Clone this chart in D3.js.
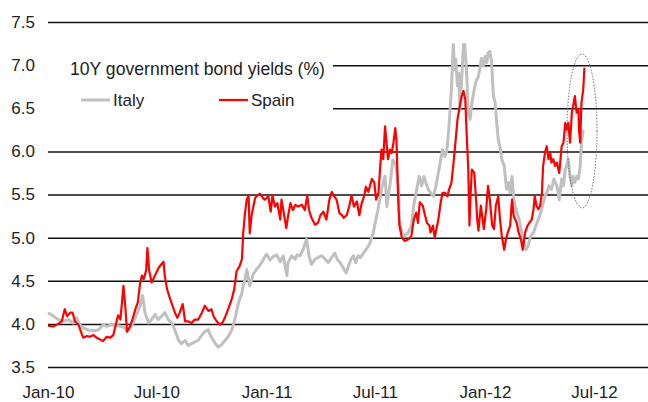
<!DOCTYPE html>
<meta charset="utf-8">
<style>
body { margin: 0; background: #fff; }
svg { display: block; font-family: "Liberation Sans", Arial, sans-serif; }
.axis text { fill: #222; font-size: 17px; }
</style>
<svg width="648" height="402"></svg>
<script src="https://d3js.org/d3.v7.min.js"></script>
<script>
// 10Y yields, [date, %]
var italy = [
  ["2010-01-01",4.13],["2010-01-10",4.09],["2010-01-18",4.05],["2010-01-27",4.03],["2010-02-04",4.05],
  ["2010-02-12",4.01],["2010-02-18",4.07],["2010-02-23",3.99],["2010-03-01",3.95],["2010-03-09",3.93],
  ["2010-03-18",3.92],["2010-03-26",3.93],["2010-04-03",3.99],["2010-04-09",3.97],["2010-04-17",3.99],
  ["2010-04-26",3.98],["2010-05-04",3.97],["2010-05-10",3.95],["2010-05-13",3.91],["2010-05-18",3.95],
  ["2010-05-23",4.01],["2010-05-29",4.11],["2010-06-04",4.21],["2010-06-08",4.33],["2010-06-12",4.13],
  ["2010-06-18",4.01],["2010-06-23",4.05],["2010-06-29",4.11],["2010-07-04",4.05],["2010-07-10",4.09],
  ["2010-07-15",4.13],["2010-07-21",4.05],["2010-07-27",4.01],["2010-08-01",3.93],["2010-08-07",3.81],
  ["2010-08-12",3.77],["2010-08-18",3.81],["2010-08-23",3.75],["2010-08-29",3.77],["2010-09-03",3.79],
  ["2010-09-09",3.81],["2010-09-15",3.87],["2010-09-20",3.91],["2010-09-26",3.93],["2010-09-29",3.87],
  ["2010-10-07",3.78],["2010-10-12",3.73],["2010-10-18",3.76],["2010-10-24",3.81],["2010-10-29",3.85],
  ["2010-11-04",3.93],["2010-11-09",4.05],["2010-11-15",4.24],["2010-11-21",4.36],["2010-11-23",4.44],
  ["2010-11-26",4.51],["2010-11-29",4.63],["2010-12-04",4.44],["2010-12-10",4.58],["2010-12-16",4.64],
  ["2010-12-21",4.68],["2010-12-27",4.75],["2011-01-01",4.81],["2011-01-07",4.74],["2011-01-12",4.78],
  ["2011-01-18",4.80],["2011-01-24",4.72],["2011-01-29",4.79],["2011-02-04",4.56],["2011-02-06",4.71],
  ["2011-02-12",4.79],["2011-02-18",4.75],["2011-02-21",4.80],["2011-02-26",4.79],["2011-03-03",4.86],
  ["2011-03-09",4.98],["2011-03-13",4.79],["2011-03-17",4.69],["2011-03-23",4.75],["2011-03-28",4.77],
  ["2011-04-03",4.79],["2011-04-09",4.75],["2011-04-14",4.71],["2011-04-20",4.77],["2011-04-25",4.82],
  ["2011-04-29",4.75],["2011-05-04",4.71],["2011-05-09",4.65],["2011-05-14",4.59],["2011-05-18",4.67],
  ["2011-05-22",4.75],["2011-05-26",4.79],["2011-05-30",4.71],["2011-06-03",4.79],["2011-06-07",4.77],
  ["2011-06-12",4.82],["2011-06-16",4.86],["2011-06-20",4.90],["2011-06-23",4.94],["2011-06-28",5.05],
  ["2011-07-06",5.32],["2011-07-13",5.59],["2011-07-18",5.71],["2011-07-21",5.36],["2011-07-26",5.60],
  ["2011-07-31",5.90],["2011-08-05",5.85],["2011-08-09",5.60],["2011-08-11",5.21],["2011-08-15",5.06],
  ["2011-08-20",5.02],["2011-08-26",5.06],["2011-08-31",5.14],["2011-09-04",5.38],["2011-09-09",5.56],
  ["2011-09-13",5.71],["2011-09-17",5.60],["2011-09-21",5.71],["2011-09-24",5.64],["2011-09-28",5.56],
  ["2011-10-02",5.52],["2011-10-07",5.48],["2011-10-11",5.60],["2011-10-15",5.75],["2011-10-19",5.91],
  ["2011-10-22",6.02],["2011-10-26",5.94],["2011-10-29",6.00],["2011-11-01",6.22],["2011-11-03",6.41],
  ["2011-11-06",6.76],["2011-11-09",7.24],["2011-11-11",6.95],["2011-11-13",7.07],["2011-11-16",6.76],
  ["2011-11-18",6.91],["2011-11-20",6.49],["2011-11-23",6.84],["2011-11-26",7.24],["2011-11-28",7.24],
  ["2011-12-01",6.95],["2011-12-04",6.45],["2011-12-07",6.37],["2011-12-10",6.56],["2011-12-12",6.64],
  ["2011-12-15",6.76],["2011-12-18",6.83],["2011-12-21",6.87],["2011-12-24",6.99],["2011-12-26",7.08],
  ["2011-12-29",6.99],["2012-01-01",7.10],["2012-01-04",7.03],["2012-01-06",7.14],["2012-01-09",7.16],
  ["2012-01-12",7.03],["2012-01-15",6.64],["2012-01-18",6.56],["2012-01-20",6.37],["2012-01-23",6.14],
  ["2012-01-26",6.05],["2012-01-29",5.91],["2012-02-02",5.83],["2012-02-06",5.56],["2012-02-09",5.64],
  ["2012-02-12",5.52],["2012-02-15",5.71],["2012-02-18",5.44],["2012-02-23",5.29],["2012-02-27",5.21],
  ["2012-03-02",5.06],["2012-03-06",4.94],["2012-03-09",4.86],["2012-03-13",4.90],["2012-03-17",5.02],
  ["2012-03-22",5.06],["2012-03-26",5.14],["2012-03-30",5.21],["2012-04-03",5.29],["2012-04-06",5.37],
  ["2012-04-10",5.48],["2012-04-13",5.52],["2012-04-17",5.60],["2012-04-21",5.56],["2012-04-25",5.68],
  ["2012-04-30",5.60],["2012-05-04",5.44],["2012-05-08",5.68],["2012-05-11",5.60],["2012-05-14",5.79],
  ["2012-05-16",5.83],["2012-05-19",5.91],["2012-05-22",5.71],["2012-05-25",5.60],["2012-05-27",5.71],
  ["2012-05-30",5.64],["2012-06-02",5.71],["2012-06-05",5.68],["2012-06-08",5.83],["2012-06-10",6.10],
  ["2012-06-13",6.25]
];

var spain = [
  ["2010-01-01",3.98],["2010-01-10",3.97],["2010-01-18",4.00],["2010-01-24",4.03],["2010-01-29",4.17],
  ["2010-02-02",4.09],["2010-02-07",4.13],["2010-02-11",4.13],["2010-02-15",4.03],["2010-02-21",3.99],
  ["2010-02-26",3.89],["2010-03-01",3.84],["2010-03-07",3.86],["2010-03-12",3.85],["2010-03-18",3.87],
  ["2010-03-23",3.84],["2010-03-29",3.82],["2010-04-03",3.80],["2010-04-09",3.85],["2010-04-15",3.84],
  ["2010-04-20",3.87],["2010-04-25",4.01],["2010-04-28",4.10],["2010-05-02",4.05],["2010-05-07",4.44],
  ["2010-05-10",4.21],["2010-05-13",3.91],["2010-05-18",3.97],["2010-05-22",4.05],["2010-05-27",4.17],
  ["2010-05-31",4.25],["2010-06-04",4.48],["2010-06-07",4.56],["2010-06-10",4.52],["2010-06-14",4.62],
  ["2010-06-16",4.88],["2010-06-19",4.62],["2010-06-23",4.48],["2010-06-26",4.52],["2010-06-30",4.58],
  ["2010-07-04",4.64],["2010-07-08",4.68],["2010-07-13",4.72],["2010-07-15",4.56],["2010-07-19",4.40],
  ["2010-07-24",4.29],["2010-07-28",4.21],["2010-08-01",4.13],["2010-08-05",4.07],["2010-08-09",4.13],
  ["2010-08-14",4.23],["2010-08-18",4.03],["2010-08-23",4.03],["2010-08-29",4.01],["2010-09-03",4.05],
  ["2010-09-09",4.05],["2010-09-15",4.13],["2010-09-20",4.21],["2010-09-26",4.15],["2010-10-01",4.17],
  ["2010-10-05",4.08],["2010-10-10",4.03],["2010-10-15",3.99],["2010-10-20",4.02],["2010-10-24",4.08],
  ["2010-10-29",4.17],["2010-11-04",4.29],["2010-11-08",4.40],["2010-11-12",4.61],["2010-11-17",4.67],
  ["2010-11-21",4.75],["2010-11-23",5.05],["2010-11-26",5.28],["2010-11-29",5.44],["2010-12-02",5.49],
  ["2010-12-04",5.05],["2010-12-07",5.25],["2010-12-10",5.36],["2010-12-13",5.46],["2010-12-17",5.49],
  ["2010-12-21",5.51],["2010-12-26",5.46],["2010-12-29",5.44],["2011-01-04",5.48],["2011-01-08",5.30],
  ["2011-01-11",5.49],["2011-01-15",5.36],["2011-01-19",5.40],["2011-01-24",5.21],["2011-01-26",5.44],
  ["2011-01-29",5.32],["2011-02-03",5.11],["2011-02-06",5.25],["2011-02-10",5.40],["2011-02-14",5.32],
  ["2011-02-18",5.38],["2011-02-23",5.36],["2011-03-01",5.38],["2011-03-06",5.32],["2011-03-10",5.49],
  ["2011-03-13",5.32],["2011-03-17",5.23],["2011-03-23",5.15],["2011-03-28",5.17],["2011-04-01",5.26],
  ["2011-04-06",5.30],["2011-04-11",5.21],["2011-04-16",5.44],["2011-04-20",5.53],["2011-04-24",5.48],
  ["2011-04-28",5.44],["2011-05-03",5.28],["2011-05-07",5.26],["2011-05-10",5.23],["2011-05-15",5.26],
  ["2011-05-19",5.36],["2011-05-23",5.49],["2011-05-27",5.36],["2011-06-01",5.42],["2011-06-05",5.26],
  ["2011-06-09",5.40],["2011-06-13",5.48],["2011-06-16",5.59],["2011-06-20",5.53],["2011-06-26",5.68],
  ["2011-06-30",5.64],["2011-07-03",5.44],["2011-07-07",5.52],["2011-07-10",5.83],["2011-07-12",6.02],
  ["2011-07-15",5.91],["2011-07-18",6.29],["2011-07-21",6.06],["2011-07-23",5.91],["2011-07-26",6.02],
  ["2011-07-29",5.98],["2011-08-01",6.10],["2011-08-04",6.27],["2011-08-06",6.14],["2011-08-09",5.44],
  ["2011-08-11",5.14],["2011-08-15",5.00],["2011-08-20",4.96],["2011-08-26",4.98],["2011-08-31",5.02],
  ["2011-09-04",5.21],["2011-09-08",5.29],["2011-09-11",5.17],["2011-09-14",5.41],["2011-09-19",5.37],
  ["2011-09-23",5.25],["2011-09-26",5.17],["2011-09-30",5.14],["2011-10-02",5.06],["2011-10-06",5.14],
  ["2011-10-09",5.00],["2011-10-15",5.21],["2011-10-19",5.41],["2011-10-22",5.52],["2011-10-26",5.52],
  ["2011-10-30",5.48],["2011-11-02",5.56],["2011-11-06",5.64],["2011-11-10",5.91],["2011-11-13",6.14],
  ["2011-11-16",6.37],["2011-11-20",6.53],["2011-11-23",6.64],["2011-11-26",6.70],["2011-11-29",6.60],
  ["2011-12-01",6.25],["2011-12-04",5.79],["2011-12-06",5.14],["2011-12-08",5.52],["2011-12-10",5.79],
  ["2011-12-14",5.75],["2011-12-17",5.44],["2011-12-19",5.21],["2011-12-21",5.08],["2011-12-25",5.37],
  ["2011-12-28",5.21],["2011-12-30",5.10],["2012-01-03",5.33],["2012-01-06",5.60],["2012-01-09",5.44],
  ["2012-01-13",5.14],["2012-01-16",5.10],["2012-01-19",5.37],["2012-01-23",5.48],["2012-01-26",5.21],
  ["2012-01-29",5.02],["2012-02-02",4.86],["2012-02-05",4.98],["2012-02-08",5.06],["2012-02-12",5.14],
  ["2012-02-15",5.44],["2012-02-18",5.25],["2012-02-23",5.17],["2012-02-26",5.06],["2012-03-01",4.98],
  ["2012-03-04",4.86],["2012-03-08",5.06],["2012-03-12",5.14],["2012-03-15",5.17],["2012-03-19",5.21],
  ["2012-03-22",5.33],["2012-03-24",5.48],["2012-03-27",5.37],["2012-03-30",5.33],["2012-04-02",5.37],
  ["2012-04-05",5.52],["2012-04-07",5.83],["2012-04-10",5.98],["2012-04-13",6.06],["2012-04-16",5.91],
  ["2012-04-19",5.98],["2012-04-21",5.87],["2012-04-24",5.91],["2012-04-27",5.83],["2012-04-30",5.87],
  ["2012-05-04",5.75],["2012-05-08",6.06],["2012-05-11",6.10],["2012-05-14",6.33],["2012-05-16",6.25],
  ["2012-05-19",6.33],["2012-05-22",6.10],["2012-05-25",6.45],["2012-05-27",6.52],["2012-05-30",6.64],
  ["2012-06-02",6.45],["2012-06-05",6.49],["2012-06-06",6.25],["2012-06-08",6.10],["2012-06-10",6.56],
  ["2012-06-13",6.72],["2012-06-15",6.97]
];

var yTicks = [3.5, 4.0, 4.5, 5.0, 5.5, 6.0, 6.5, 7.0, 7.5];
var xTicks = ["2010-01-01", "2010-07-01", "2011-01-01", "2011-07-01", "2012-01-01", "2012-07-01"];
var title = "10Y government bond yields (%)";
var seriesNames = ["Italy", "Spain"];
var seriesColors = ["#c0c0c0", "#ff0000"];

var parse = d3.timeParse("%Y-%m-%d");
var svg = d3.select("svg");

var x = d3.scaleTime()
  .domain([parse("2010-01-01"), parse("2012-07-01")])
  .range([48, 594]);
var y = d3.scaleLinear().domain([3.5, 7.5]).range([367, 22]);

// horizontal grid + y labels
var yAxis = svg.append("g")
  .attr("class", "axis")
  .attr("transform", "translate(48,0)")
  .call(d3.axisLeft(y).tickValues(yTicks).tickFormat(d3.format(".1f"))
    .tickSizeInner(-600).tickSizeOuter(0).tickPadding(13));
yAxis.select(".domain").remove();
yAxis.selectAll("line").attr("stroke", "#111").attr("stroke-width", 1.5);

var xAxis = svg.append("g")
  .attr("class", "axis")
  .attr("transform", "translate(0,367)")
  .call(d3.axisBottom(x).tickValues(xTicks.map(parse)).tickFormat(d3.timeFormat("%b-%y"))
    .tickSize(0).tickPadding(19));
xAxis.select(".domain").remove();

// legend sits on a white patch over the grid
svg.append("rect").attr("x", 48).attr("y", 44).attr("width", 285).attr("height", 82).attr("fill", "#fff");

var line = d3.line()
  .x(function (d) { return x(parse(d[0])) })
  .y(function (d) { return y(d[1]) });

svg.append("path").datum(italy)
  .attr("fill", "none").attr("stroke", seriesColors[0]).attr("stroke-width", 3)
  .attr("stroke-linejoin", "round").attr("d", line);
svg.append("path").datum(spain)
  .attr("fill", "none").attr("stroke", seriesColors[1]).attr("stroke-width", 2.2)
  .attr("stroke-linejoin", "round").attr("d", line);

// dotted ring around the latest move
svg.append("ellipse")
  .attr("cx", 582).attr("cy", 131).attr("rx", 15).attr("ry", 77)
  .attr("fill", "none").attr("stroke", "#666").attr("stroke-width", 1)
  .attr("stroke-dasharray", "1.5,1.5");

svg.append("text").attr("x", 70).attr("y", 75)
  .attr("font-size", 17.6).attr("fill", "#222").text(title);

var legX = [81, 219];
seriesNames.forEach(function (name, i) {
  svg.append("line")
    .attr("x1", legX[i]).attr("x2", legX[i] + 29).attr("y1", 100).attr("y2", 100)
    .attr("stroke", seriesColors[i]).attr("stroke-width", i === 0 ? 3 : 2.2);
  svg.append("text").attr("x", legX[i] + 32).attr("y", 106)
    .attr("font-size", 17).attr("fill", "#222").text(name);
});
</script>
